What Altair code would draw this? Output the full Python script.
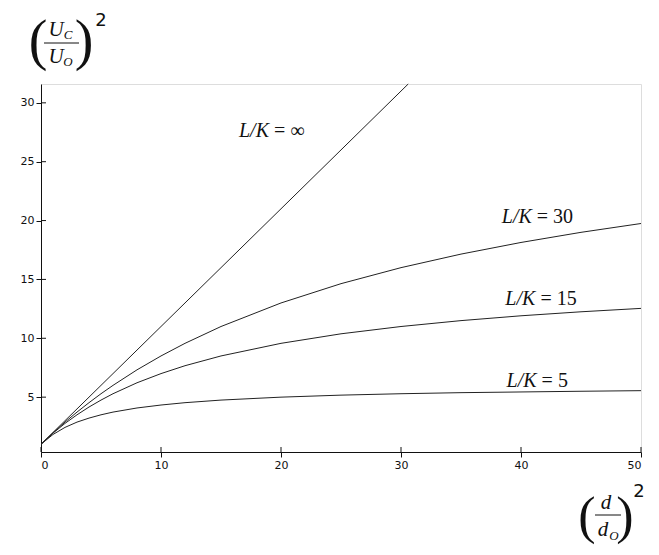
import altair as alt
import pandas as pd

# ---- data ----
x_vals = [0, 1, 2, 3, 4, 5, 6, 8, 10, 12, 15, 20, 25, 30, 35, 40, 45, 50]
lk5 = [1.0, 1.83, 2.43, 2.88, 3.22, 3.5, 3.73, 4.08, 4.33, 4.53, 4.75, 5.0, 5.17, 5.29, 5.38, 5.44, 5.5, 5.55]
lk15 = [1.0, 1.94, 2.77, 3.5, 4.16, 4.75, 5.29, 6.22, 7.0, 7.67, 8.5, 9.57, 10.38, 11.0, 11.5, 11.91, 12.25, 12.54]
lk30 = [1.0, 1.97, 2.88, 3.73, 4.53, 5.29, 6.0, 7.32, 8.5, 9.57, 11.0, 13.0, 14.64, 16.0, 17.15, 18.14, 19.0, 19.75]
inf_x = [0, 10, 20, 30, 30.6]
inf_y = [1, 11, 21, 31, 31.6]

x_ticks = [0, 10, 20, 30, 40, 50]
y_ticks = [5, 10, 15, 20, 25, 30]

label_names = ["∞", "30", "15", "5"]
label_x = [19.0, 40.9, 41.2, 41.3]
label_y = [27.6, 20.3, 13.3, 6.4]

rows = []
for name, ys in [("5", lk5), ("15", lk15), ("30", lk30)]:
    for xv, yv in zip(x_vals, ys):
        rows.append({"x": xv, "y": yv, "s": name})
for xv, yv in zip(inf_x, inf_y):
    rows.append({"x": xv, "y": yv, "s": "inf"})
df = pd.DataFrame(rows)

labels = pd.DataFrame({"x": label_x, "y": label_y, "it": ["L/K"] * 4,
                       "rest": ["= " + n for n in label_names]})

W, H = 600, 368
xs = alt.Scale(domain=[0, 50], nice=False)
ys_ = alt.Scale(domain=[0.34, 31.6], nice=False, zero=False)

SANS = "DejaVu Sans"
SERIF = "Liberation Serif"

lines = alt.Chart(df).mark_line(color="#222", strokeWidth=1).encode(
    x=alt.X("x:Q", scale=xs, axis=alt.Axis(values=x_ticks, title=None, labelFont=SANS, labelFontSize=11,
                                           labelColor="#111", domainColor="#111", tickColor="#111",
                                           tickSize=5, labelPadding=2, grid=False)),
    y=alt.Y("y:Q", scale=ys_, axis=alt.Axis(values=y_ticks, title=None, labelFont=SANS, labelFontSize=11,
                                            labelColor="#111", domainColor="#111", tickColor="#111",
                                            tickSize=5, labelPadding=2, grid=False)),
    detail="s:N",
)

# inner halves of tick marks (ticks cross the axis in the reference)
ytick_in = alt.Chart(pd.DataFrame({"v": y_ticks})).mark_rule(color="#111").encode(
    y=alt.Y("v:Q", scale=ys_), x=alt.value(0), x2=alt.value(5))
xtick_in = alt.Chart(pd.DataFrame({"v": x_ticks})).mark_rule(color="#111").encode(
    x=alt.X("v:Q", scale=xs), y=alt.value(H), y2=alt.value(H - 5))

lab_it = alt.Chart(labels).mark_text(font=SERIF, fontStyle="italic", fontSize=20, align="right",
                                     baseline="middle", color="#111").encode(
    x=alt.X("x:Q", scale=xs), y=alt.Y("y:Q", scale=ys_), text="it:N")
lab_rest = alt.Chart(labels).mark_text(font=SERIF, fontSize=20, align="left", baseline="middle",
                                       dx=5, color="#111").encode(
    x=alt.X("x:Q", scale=xs), y=alt.Y("y:Q", scale=ys_), text="rest:N")

one = pd.DataFrame({"a": [0]})


def txt(t, px, py, size, font=SERIF, style="normal"):
    return alt.Chart(one).mark_text(text=t, font=font, fontStyle=style, fontSize=size,
                                    align="center", baseline="middle", color="#111").encode(
        x=alt.value(px), y=alt.value(py))


def bar(x1, x2, py):
    return alt.Chart(one).mark_rule(color="#111", strokeWidth=1).encode(
        x=alt.value(x1), x2=alt.value(x2), y=alt.value(py))


# y-axis title (U_C / U_O)^2, positions relative to plot origin
ytitle = [
    txt("(", -3, -42, 56),
    txt("U", 15, -54, 21, style="italic"), txt("C", 27, -49, 13, style="italic"),
    bar(3, 38, -41),
    txt("U", 15, -27, 21, style="italic"), txt("O", 27, -22, 13, style="italic"),
    txt(")", 43, -42, 56),
    txt("2", 60, -63, 18, font=SANS),
]
# x-axis title (d / d_O)^2
xtitle = [
    txt("(", 546, 433, 52),
    txt("d", 565, 419, 21, style="italic"),
    bar(554, 580, 431),
    txt("d", 562, 446, 21, style="italic"), txt("O", 573, 452, 13, style="italic"),
    txt(")", 584, 433, 52),
    txt("2", 598, 408, 18, font=SANS),
]

chart = alt.layer(lines, ytick_in, xtick_in, lab_it, lab_rest, *ytitle, *xtitle).properties(
    width=W, height=H,
    autosize=alt.AutoSizeParams(type="none"),
    padding={"left": 33, "top": 76, "right": 10, "bottom": 95},
).configure_view(stroke="#333", strokeWidth=1).configure(background="white")

chart.save("out.html", embed_options={"renderer": "svg", "actions": False})
